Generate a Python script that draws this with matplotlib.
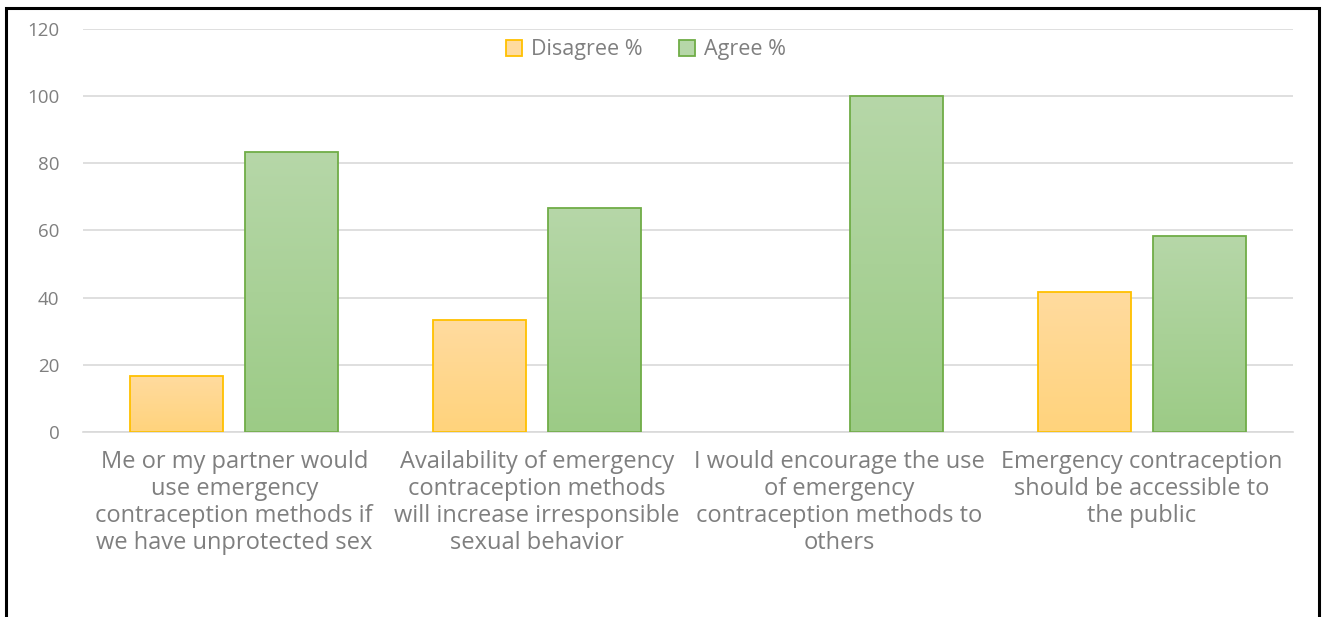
import matplotlib.pyplot as plt
import numpy as np
from matplotlib.patches import Rectangle
from matplotlib.colors import LinearSegmentedColormap

# Survey data
categories = [
    "Me or my partner would\nuse emergency\ncontraception methods if\nwe have unprotected sex",
    "Availability of emergency\ncontraception methods\nwill increase irresponsible\nsexual behavior",
    "I would encourage the use\nof emergency\ncontraception methods to\nothers",
    "Emergency contraception\nshould be accessible to\nthe public",
]
disagree = [16.7, 33.3, 0, 41.7]
agree = [83.3, 66.7, 100, 58.3]
series_names = ["Disagree %", "Agree %"]

text_grey = "#7f7f7f"
plt.rcParams['font.family'] = ['Open Sans', 'DejaVu Sans']

fig = plt.figure(figsize=(13.26, 6.17), dpi=100)
ax = fig.add_axes([0.0626, 0.30, 0.9124, 0.653])

x = np.arange(len(categories))
width = 0.307
offset = 0.19

# (top colour, bottom colour, edge colour)
styles = [("#FFDB9F", "#FFD37C", "#FFC000"), ("#B6D7A8", "#9CCB86", "#70AD47")]

for vals, off, (top, bottom, edge), name in zip([disagree, agree], [-offset, offset], styles, series_names):
    bars = ax.bar(x + off, vals, width, color=bottom, edgecolor=edge, linewidth=1.3,
                  label=name, zorder=3)
    cmap = LinearSegmentedColormap.from_list(name, [bottom, top])
    for b in bars:
        h = b.get_height()
        if h <= 0:
            b.set_visible(False)
            continue
        b.set_facecolor("none")
        bx, bw = b.get_x(), b.get_width()
        grad = np.linspace(0, 1, 256).reshape(-1, 1)
        im = ax.imshow(grad, cmap=cmap, origin="lower", aspect="auto",
                       extent=[bx, bx + bw, 0, h], zorder=2)
        im.set_clip_path(b)

ax.set_xlim(-0.5, len(categories) - 0.5)
ax.set_ylim(0, 120)
ax.set_yticks(range(0, 121, 20))
ax.set_xticks(x)
ax.set_xticklabels(categories, fontsize=17, color=text_grey, linespacing=1.17)
ax.tick_params(axis="x", length=0, pad=13)
ax.tick_params(axis="y", length=0, pad=17, labelsize=13.5, labelcolor=text_grey)
ax.grid(axis="y", color="#d9d9d9", linewidth=1.2, zorder=0)
ax.set_axisbelow(True)
for s in ["top", "right", "left"]:
    ax.spines[s].set_visible(False)
ax.spines["bottom"].set_color("#d9d9d9")
ax.spines["bottom"].set_linewidth(1.2)

leg = fig.legend(loc="center", bbox_to_anchor=(0.487, 0.919), ncol=2, frameon=False,
                 fontsize=15.5, handlelength=0.75, handleheight=0.75, columnspacing=1.7,
                 handletextpad=0.4)
for t in leg.get_texts():
    t.set_color(text_grey)
# legend swatches filled like the bars
for h, (top, bottom, edge) in zip(leg.legend_handles, styles):
    h.set_facecolor(top)
    h.set_edgecolor(edge)

# outer frame
fig.patches.append(Rectangle((6 / 1326, -0.02), 1313 / 1326, 1.02 - 8 / 617,
                             transform=fig.transFigure, fill=False,
                             edgecolor="black", linewidth=2.2))

fig.savefig("out.png", dpi=100)
